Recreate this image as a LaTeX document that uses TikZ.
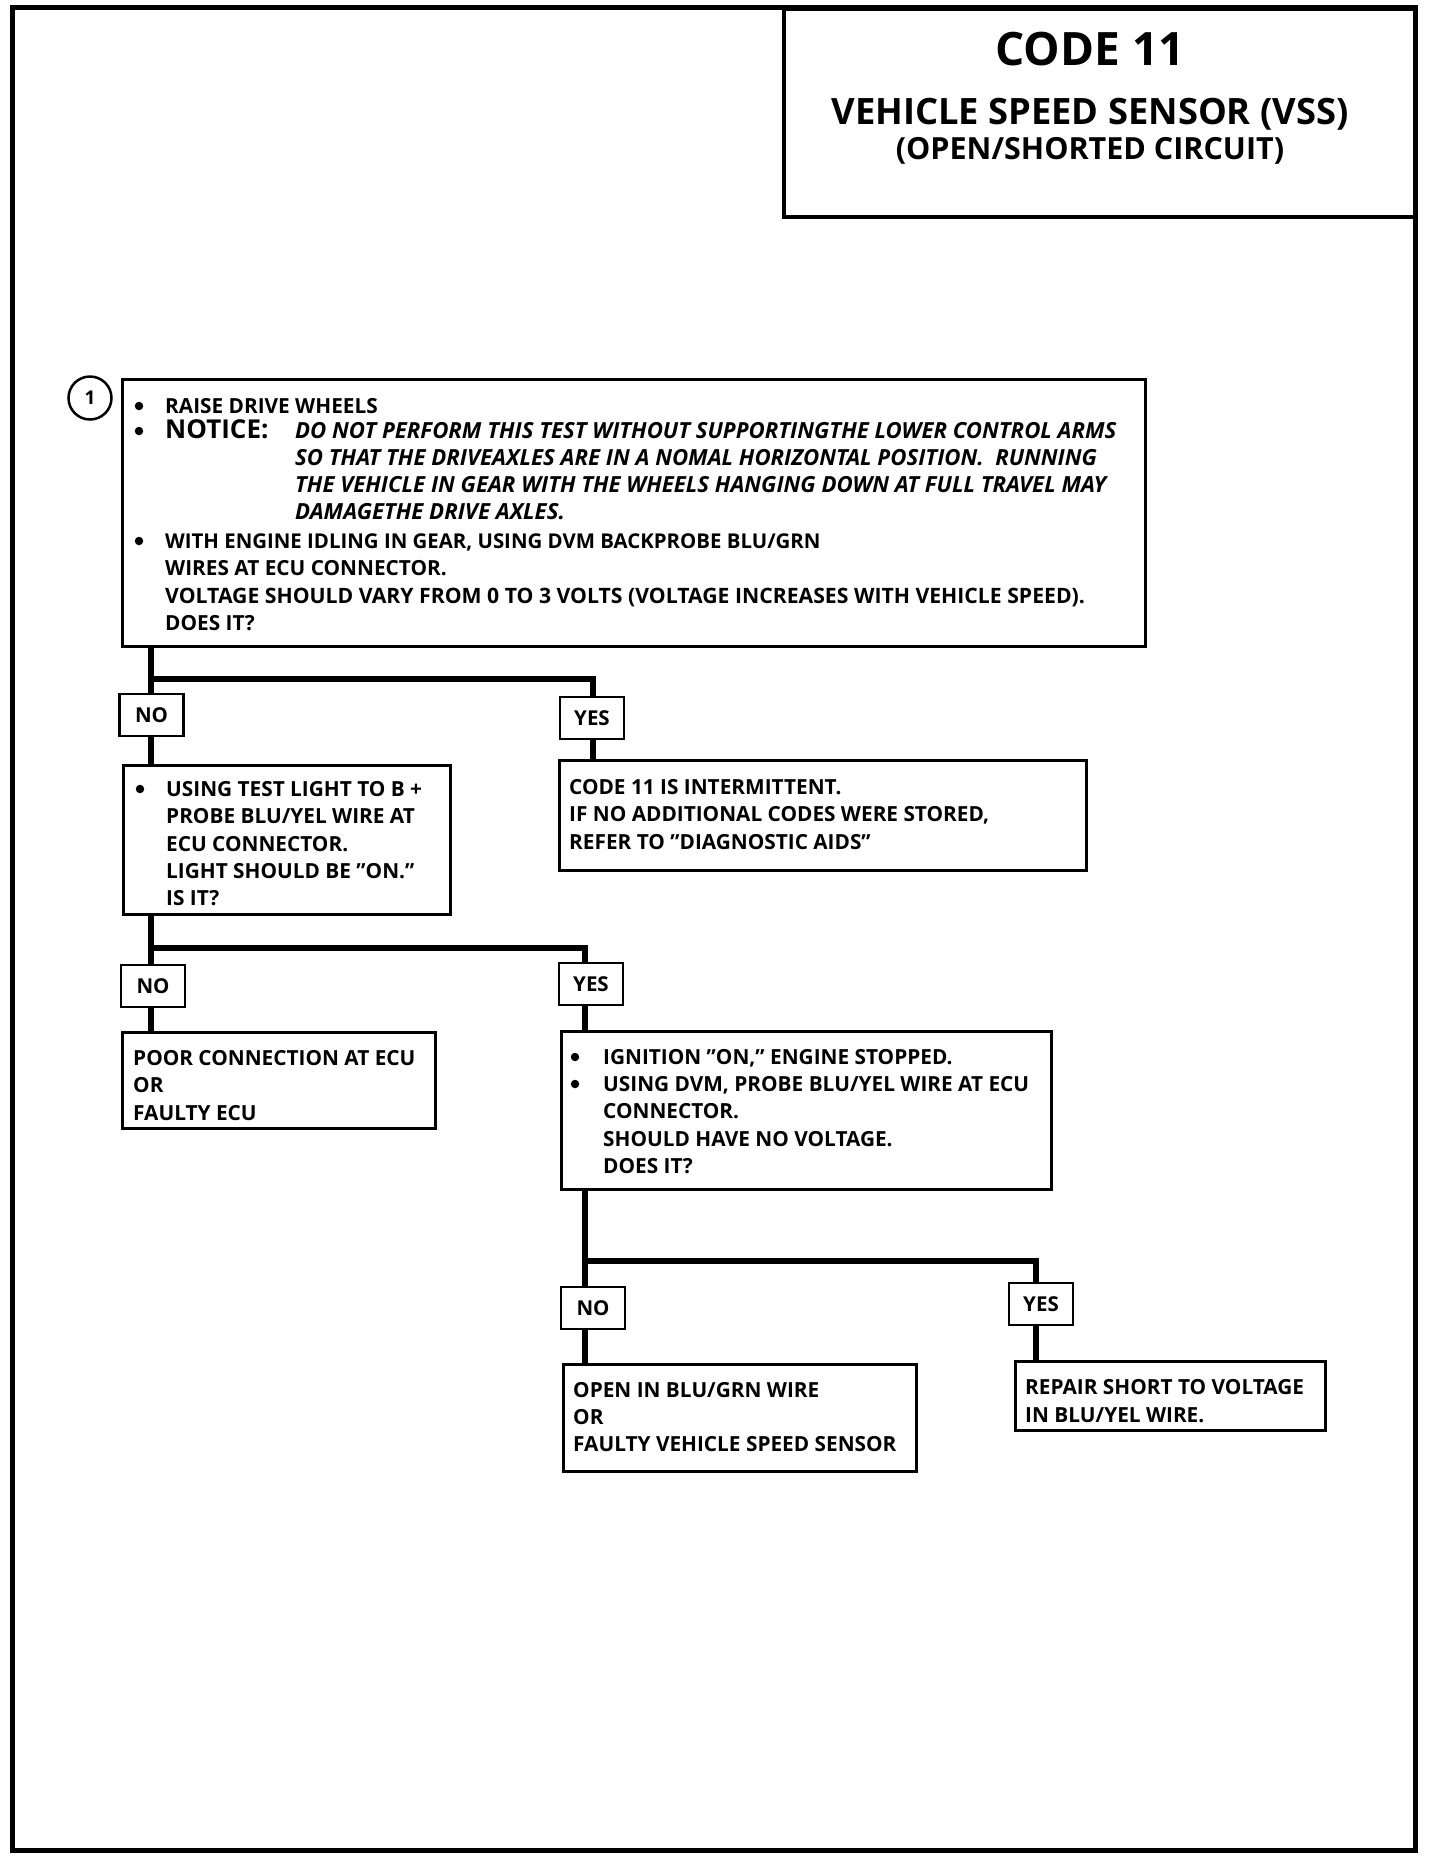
\documentclass[tikz,border=0pt]{standalone}
\usepackage{fontspec}
\setmainfont{Open Sans}
\begin{document}
\begin{tikzpicture}[x=1pt,y=-1pt,
  box/.style={draw, line width=2.5pt, inner sep=0pt, anchor=north west},
  lbl/.style={draw, line width=2.5pt, minimum width=64pt, minimum height=42pt, inner sep=0pt, font=\fontsize{20.5}{25}\selectfont\bfseries},
  conn/.style={line width=6.5pt, line join=miter},
  txt/.style={anchor=base west, inner sep=0pt, font=\fontsize{20.8}{25}\selectfont\bfseries},
  itx/.style={anchor=base west, inner sep=0pt, font=\fontsize{22.2}{26}\selectfont\bfseries\itshape},
  dot/.style={circle, fill=black, minimum size=8.5pt, inner sep=0pt},
  ttl/.style={anchor=base, inner sep=0pt}
]
\fill[white] (0,0) rectangle (1456,1864);
\useasboundingbox (0,0) rectangle (1456,1864);

% outer frame and title
\draw[line width=5pt] (12,7) rectangle (1415,1850);
\node[box, line width=3.5pt, minimum width=631pt, minimum height=208pt] (tbox) at (782,7) {};
\node[ttl, font=\fontsize{46}{50}\selectfont\bfseries] (tl1) at (1090,65) {CODE 11};
\node[ttl, font=\fontsize{36.3}{40}\selectfont\bfseries] (tl2) at (1090,124) {VEHICLE SPEED SENSOR (VSS)};
\node[ttl, font=\fontsize{30.5}{34}\selectfont\bfseries] (tl3) at (1090,159) {(OPEN/SHORTED CIRCUIT)};

% step number
\node[circle, draw, line width=2.5pt, minimum size=43pt, inner sep=0pt, font=\fontsize{19}{22}\selectfont\bfseries] (c1) at (90,398) {1};

% boxes
\node[box, minimum width=1023pt, minimum height=267pt] (b1) at (121,378) {};
\node[box, minimum width=327pt, minimum height=149pt] (b2) at (122,764) {};
\node[box, minimum width=527pt, minimum height=110pt] (b3) at (558,759) {};
\node[box, minimum width=313pt, minimum height=96pt] (b4) at (121,1031) {};
\node[box, minimum width=490pt, minimum height=158pt] (b5) at (560,1030) {};
\node[box, minimum width=353pt, minimum height=107pt] (b6) at (562,1363) {};
\node[box, minimum width=310pt, minimum height=69pt] (b7) at (1014,1360) {};

% labels
\node[lbl] (no1) at (151.5,715) {NO};
\node[lbl] (yes1) at (592,718) {YES};
\node[lbl] (no2) at (153,986) {NO};
\node[lbl] (yes2) at (591,984) {YES};
\node[lbl] (no3) at (593,1308) {NO};
\node[lbl] (yes3) at (1041,1304) {YES};

% connectors
\coordinate (j1) at (151,679);
\coordinate (r1) at (593,679);
\coordinate (j2) at (151,948);
\coordinate (r2) at (585,948);
\coordinate (j3) at (585,1261);
\coordinate (r3) at (1036,1261);

\draw[conn] (b1.south -| j1) -- (no1.north -| j1);
\draw[conn] (j1) -- (r1) -- (yes1.north -| r1);
\draw[conn] (no1.south -| j1) -- (b2.north -| j1);
\draw[conn] (yes1.south -| r1) -- (b3.north -| r1);
\draw[conn] (b2.south -| j2) -- (no2.north -| j2);
\draw[conn] (j2) -- (r2) -- (yes2.north -| r2);
\draw[conn] (no2.south -| j2) -- (b4.north -| j2);
\draw[conn] (yes2.south -| r2) -- (b5.north -| r2);
\draw[conn] (b5.south -| j3) -- (no3.north -| j3);
\draw[conn] (j3) -- (r3) -- (yes3.north -| r3);
\draw[conn] (no3.south -| j3) -- (b6.north -| j3);
\draw[conn] (yes3.south -| r3) -- (b7.north -| r3);

% bullets
\node[dot] (d1) at (139,406) {};
\node[dot] (d2) at (139,431) {};
\node[dot] (d3) at (139,541) {};
\node[dot] (d4) at (140,789) {};
\node[dot] (d5) at (575,1057) {};
\node[dot] (d6) at (575,1084) {};

% box 1 text
\node[txt] (p1b) at (165,413) {RAISE DRIVE WHEELS};
\node[txt, font=\fontsize{26}{30}\selectfont\bfseries] (p1d) at (165,438) {NOTICE:};
\node[itx] (p1e) at (295,438) {DO NOT PERFORM THIS TEST WITHOUT SUPPORTINGTHE LOWER CONTROL ARMS};
\node[itx] (p1f) at (295,465) {SO THAT THE DRIVEAXLES ARE IN A NOMAL HORIZONTAL POSITION.\ \ RUNNING};
\node[itx] (p1g) at (295,492) {THE VEHICLE IN GEAR WITH THE WHEELS HANGING DOWN AT FULL TRAVEL MAY};
\node[itx] (p1h) at (295,519) {DAMAGETHE DRIVE AXLES.};
\node[txt, font=\fontsize{20.4}{25}\selectfont\bfseries] (p1j) at (165,548) {WITH ENGINE IDLING IN GEAR, USING DVM BACKPROBE BLU/GRN};
\node[txt] (p1k) at (165,575) {WIRES AT ECU CONNECTOR.};
\node[txt, font=\fontsize{21.2}{25}\selectfont\bfseries] (p1l) at (165,603) {VOLTAGE SHOULD VARY FROM 0 TO 3 VOLTS (VOLTAGE INCREASES WITH VEHICLE SPEED).};
\node[txt] (p1m) at (165,630) {DOES IT?};

% box 2 text
\node[txt] (p2b) at (166,796) {USING TEST LIGHT TO B +};
\node[txt] (p2c) at (166,823.5) {PROBE BLU/YEL WIRE AT};
\node[txt] (p2d) at (166,851) {ECU CONNECTOR.};
\node[txt] (p2e) at (166,878) {LIGHT SHOULD BE "ON."};
\node[txt] (p2f) at (166,905.5) {IS IT?};

% box 3 text
\node[txt] (p3a) at (569,794) {CODE 11 IS INTERMITTENT.};
\node[txt] (p3b) at (569,821) {IF NO ADDITIONAL CODES WERE STORED,};
\node[txt] (p3c) at (569,849) {REFER TO "DIAGNOSTIC AIDS"};

% box 4 text
\node[txt] (p4a) at (133,1065) {POOR CONNECTION AT ECU};
\node[txt] (p4b) at (133,1092) {OR};
\node[txt] (p4c) at (133,1120) {FAULTY ECU};

% box 5 text
\node[txt] (p5b) at (603,1064) {IGNITION "ON," ENGINE STOPPED.};
\node[txt] (p5d) at (603,1091) {USING DVM, PROBE BLU/YEL WIRE AT ECU};
\node[txt] (p5e) at (603,1118) {CONNECTOR.};
\node[txt] (p5f) at (603,1146) {SHOULD HAVE NO VOLTAGE.};
\node[txt] (p5g) at (603,1173) {DOES IT?};

% box 6 text
\node[txt] (p6a) at (573,1397) {OPEN IN BLU/GRN WIRE};
\node[txt] (p6b) at (573,1424) {OR};
\node[txt] (p6c) at (573,1451) {FAULTY VEHICLE SPEED SENSOR};

% box 7 text
\node[txt] (p7a) at (1025,1394) {REPAIR SHORT TO VOLTAGE};
\node[txt] (p7b) at (1025,1422) {IN BLU/YEL WIRE.};
\end{tikzpicture}
\end{document}
